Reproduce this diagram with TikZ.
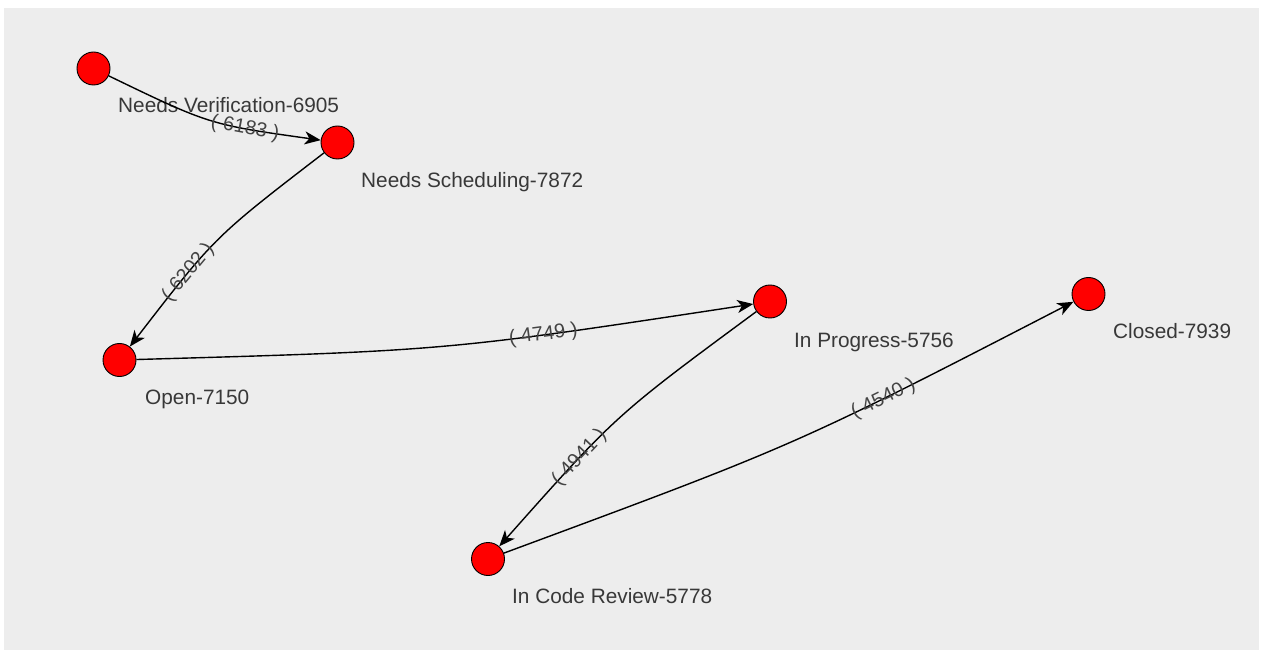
\documentclass[tikz,border=0pt]{standalone}
\usepackage{fontspec}
\setmainfont{Liberation Sans}
\usetikzlibrary{calc,arrows.meta}
\definecolor{bg}{HTML}{EDEDED}
\definecolor{txt}{HTML}{383838}
\definecolor{elbl}{HTML}{444444}
\begin{document}
\begin{tikzpicture}[x=1pt,y=-1pt,
  state/.style={circle,draw=black,line width=0.9pt,fill=red,minimum size=33pt,inner sep=0pt},
  nlabel/.style={anchor=base west,inner sep=0pt,text=txt,font=\fontsize{20.8}{24}\selectfont},
  edge/.style={draw=black,line width=1.4pt,-{Stealth[length=16pt,width=13pt,inset=4.5pt]}},
  elabel/.style={sloped,inner sep=0pt,text=elbl,font=\fontsize{20}{23}\selectfont}]
\path[use as bounding box] (0,0) rectangle (1261,652);
\fill[white] (0,0) rectangle (1261,652);
\fill[bg] (4,8) rectangle (1259,650);

\node[state] (nv) at (93.5,68.5) {};
\node[state] (ns) at (337.5,142.5) {};
\node[state] (op) at (119.5,360) {};
\node[state] (ip) at (770,301.5) {};
\node[state] (cl) at (1088.5,294) {};
\node[state] (cr) at (488,559) {};

\node[nlabel] (nvL) at (118,113) {Needs Verification-6905};
\node[nlabel] (nsL) at (361,188) {Needs Scheduling-7872};
\node[nlabel] (opL) at (145,404) {Open-7150};
\node[nlabel] (ipL) at (794,347) {In Progress-5756};
\node[nlabel] (clL) at (1113,338) {Closed-7939};
\node[nlabel] (crL) at (512,603) {In Code Review-5778};

\draw[edge] (nv) .. controls ($(nv)!.5!(ns)!20pt!-90:(ns)$) .. (ns)
  node[elabel,pos=0.7] (e1) {( 6183 )};
\draw[edge] (ns) .. controls ($(ns)!.5!(op)!20pt!-90:(op)$) .. (op)
  node[elabel,pos=0.7] (e2) {( 6202 )};
\draw[edge] (op) .. controls ($(op)!.5!(ip)!20pt!-90:(ip)$) .. (ip)
  node[elabel,pos=0.7] (e3) {( 4749 )};
\draw[edge] (ip) .. controls ($(ip)!.5!(cr)!20pt!-90:(cr)$) .. (cr)
  node[elabel,pos=0.7] (e4) {( 4941 )};
\draw[edge] (cr) .. controls ($(cr)!.5!(cl)!20pt!-90:(cl)$) .. (cl)
  node[elabel,pos=0.7] (e5) {( 4540 )};
\end{tikzpicture}
\end{document}
